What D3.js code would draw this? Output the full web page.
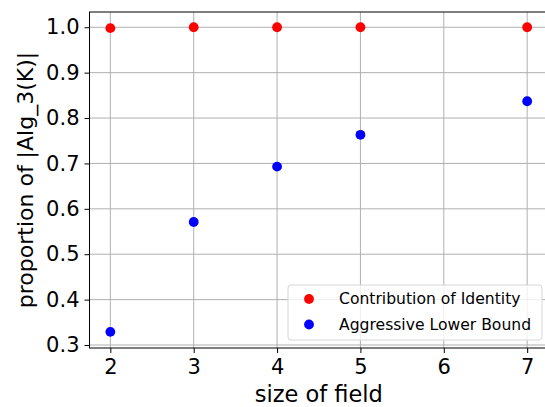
<!DOCTYPE html>
<html>
<head>
<meta charset="utf-8">
<script src="https://cdn.jsdelivr.net/npm/d3@7"></script>
<style>
  body { margin: 0; background: #fff; }
  text { font-family: "DejaVu Sans", sans-serif; fill: #000; }
</style>
</head>
<body>
<div id="chart"></div>
<script>
const fieldSizes = [2, 3, 4, 5, 7];
const identity = [0.998, 1.0, 1.0, 1.0, 1.0];
const lowerBound = [0.329, 0.571, 0.693, 0.763, 0.837];
const xTicks = [2, 3, 4, 5, 6, 7];
const yTicks = [0.3, 0.4, 0.5, 0.6, 0.7, 0.8, 0.9, 1.0];
const seriesNames = ["Contribution of Identity", "Aggressive Lower Bound"];
const seriesColors = ["#ff0000", "#0000ff"];

const width = 545, height = 407;
const margin = {top: 12, right: -3, bottom: 59, left: 89.5};

const svg = d3.select("#chart").append("svg")
  .attr("width", width)
  .attr("height", height);

const x = d3.scaleLinear()
  .domain([1.75, 7.25])
  .range([margin.left, width - margin.right]);

const y = d3.scaleLinear()
  .domain([0.2934, 1.0336])
  .range([height - margin.bottom, margin.top]);

// grid
svg.append("g")
  .selectAll("line")
  .data(xTicks)
  .enter()
  .append("line")
  .attr("x1", d => x(d)).attr("x2", d => x(d))
  .attr("y1", margin.top).attr("y2", height - margin.bottom)
  .attr("stroke", "#b0b0b0")
  .attr("stroke-width", 1);

svg.append("g")
  .selectAll("line")
  .data(yTicks)
  .enter()
  .append("line")
  .attr("x1", margin.left).attr("x2", width - margin.right)
  .attr("y1", d => y(d)).attr("y2", d => y(d))
  .attr("stroke", "#b0b0b0")
  .attr("stroke-width", 1);

// axes
const xAxis = svg.append("g")
  .attr("transform", "translate(0," + (height - margin.bottom) + ")")
  .call(d3.axisBottom(x).tickValues(xTicks).tickFormat(d3.format("d")).tickSizeOuter(0).tickSize(5).tickPadding(6));

const yAxis = svg.append("g")
  .attr("transform", "translate(" + margin.left + ",0)")
  .call(d3.axisLeft(y).tickValues(yTicks).tickFormat(d3.format(".1f")).tickSizeOuter(0).tickSize(5).tickPadding(5));

[xAxis, yAxis].forEach(a => {
  a.select(".domain").remove();
  a.selectAll("text")
    .style("font-family", "DejaVu Sans, sans-serif")
    .style("font-size", "21px")
    .attr("fill", "#000");
  a.selectAll("line").attr("stroke", "#000");
});

// frame
svg.append("rect")
  .attr("x", margin.left)
  .attr("y", margin.top)
  .attr("width", width - margin.right - margin.left)
  .attr("height", height - margin.bottom - margin.top)
  .attr("fill", "none")
  .attr("stroke", "#000")
  .attr("stroke-width", 1);

// points
const series = [identity, lowerBound];
series.forEach((vals, s) => {
  svg.append("g")
    .selectAll("circle")
    .data(vals)
    .enter()
    .append("circle")
    .attr("cx", (d, i) => x(fieldSizes[i]))
    .attr("cy", d => y(d))
    .attr("r", 4.9)
    .attr("fill", seriesColors[s]);
});

// labels
svg.append("text")
  .attr("x", (margin.left + width - margin.right) / 2)
  .attr("y", 402)
  .attr("text-anchor", "middle")
  .style("font-size", "22.5px")
  .text("size of field");

svg.append("text")
  .attr("transform", "translate(33," + ((margin.top + height - margin.bottom) / 2) + ")rotate(-90)")
  .attr("text-anchor", "middle")
  .style("font-size", "22px")
  .text("proportion of |Alg_3(K)|");

// legend
const legend = svg.append("g");
legend.append("rect")
  .attr("x", 288).attr("y", 285)
  .attr("width", 254).attr("height", 55)
  .attr("rx", 3)
  .attr("fill", "rgba(255,255,255,0.8)")
  .attr("stroke", "#d6d6d6");

seriesNames.forEach((name, i) => {
  legend.append("circle")
    .attr("cx", 309).attr("cy", 299 + i * 25.5)
    .attr("r", 4.9)
    .attr("fill", seriesColors[i]);
  legend.append("text")
    .attr("x", 339).attr("y", 299 + i * 25.5)
    .attr("dy", "0.35em")
    .style("font-size", "15.6px")
    .attr("fill", "#222")
    .text(name);
});
</script>
</body>
</html>
